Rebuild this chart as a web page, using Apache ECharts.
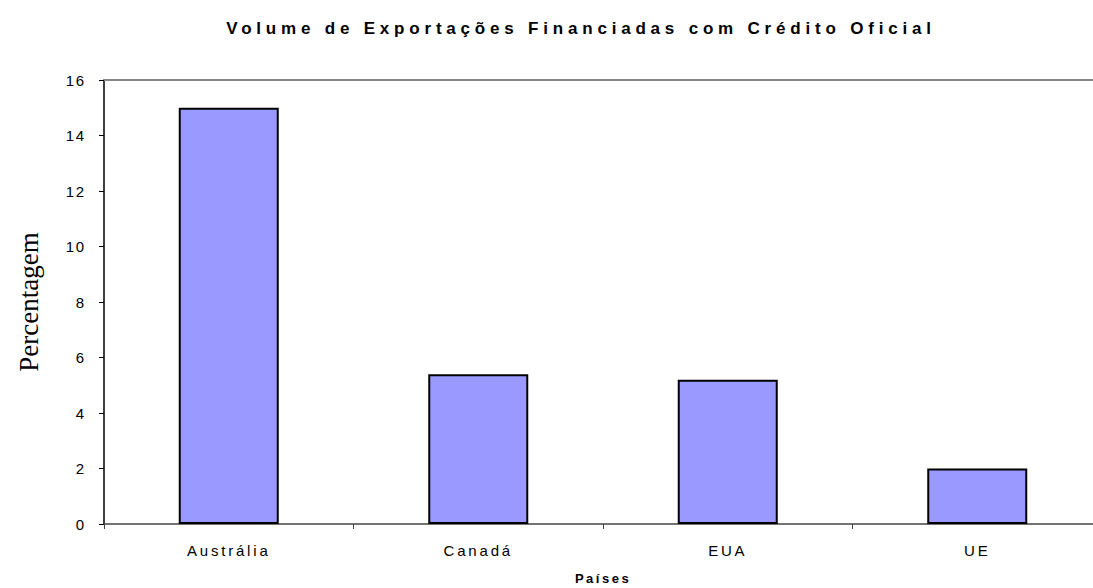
<!DOCTYPE html>
<html>
<head>
<meta charset="utf-8">
<script src="https://cdn.jsdelivr.net/npm/echarts@6/dist/echarts.min.js"></script>
<style>
  html, body { margin: 0; padding: 0; background: #ffffff; }
  #chart { width: 1093px; height: 588px; }
  /* letter spacing for the spaced Excel-style labels (matched via font family list) */
  #chart text[style*="Arial"] { letter-spacing: 4.8px; }
  #chart text[style*="Helvetica"] { letter-spacing: 2.8px; }
  #chart text[style*="Verdana"] { letter-spacing: 2.5px; }
  #chart text[style*="Tahoma"] { letter-spacing: 1.5px; }
</style>
</head>
<body>
<div id="chart"></div>
<script>
const titleText = 'Volume de Exportações Financiadas com Crédito Oficial';
const xAxisTitle = 'Países';
const yAxisTitle = 'Percentagem';
const categories = ['Austrália', 'Canadá', 'EUA', 'UE'];
const values = [15, 5.4, 5.2, 2];
const yMin = 0, yMax = 16, yStep = 2;

const chart = echarts.init(document.getElementById('chart'), null, { renderer: 'svg' });
chart.setOption({
  animation: false,
  backgroundColor: '#ffffff',
  title: {
    text: titleText,
    left: 576, top: 15, textAlign: 'center',
    textStyle: { fontFamily: 'Liberation Sans, Arial', fontWeight: 'bold', fontSize: 17, color: '#000' }
  },
  grid: { left: 104, right: -9, top: 80, bottom: 64, containLabel: false, outerBoundsMode: 'none' },
  xAxis: [
    {
      type: 'category',
      data: categories,
      boundaryGap: true,
      name: xAxisTitle,
      nameLocation: 'middle',
      nameGap: 48,
      nameTextStyle: { fontFamily: 'Liberation Sans, Verdana', fontWeight: 'bold', fontSize: 13, color: '#000' },
      axisLine: { lineStyle: { color: '#444', width: 1.5 } },
      axisTick: { show: true, alignWithLabel: false, length: 5, lineStyle: { color: '#444', width: 1 } },
      axisLabel: { margin: 19, color: '#000', fontSize: 15, fontFamily: 'Liberation Sans, Helvetica' },
      splitLine: { show: false }
    },
    {
      type: 'category',
      data: categories,
      position: 'top',
      axisLine: { show: true, lineStyle: { color: '#888', width: 2 } },
      axisTick: { show: false },
      axisLabel: { show: false },
      splitLine: { show: false }
    }
  ],
  yAxis: {
    type: 'value',
    min: yMin, max: yMax, interval: yStep,
    name: yAxisTitle,
    nameLocation: 'middle',
    nameGap: 62,
    nameTextStyle: { fontFamily: 'Liberation Serif', fontSize: 27, color: '#000' },
    axisLine: { show: true, lineStyle: { color: '#000', width: 1.5 } },
    axisTick: { show: true, length: 5, lineStyle: { color: '#000', width: 1 } },
    axisLabel: { margin: 18.5, color: '#000', fontSize: 15, fontFamily: 'Liberation Sans, Tahoma' },
    splitLine: { show: false }
  },
  series: [{
    type: 'bar',
    data: values,
    barWidth: 100,
    itemStyle: { color: '#9999FF', borderColor: '#000', borderWidth: 2 }
  }]
});
</script>
</body>
</html>
